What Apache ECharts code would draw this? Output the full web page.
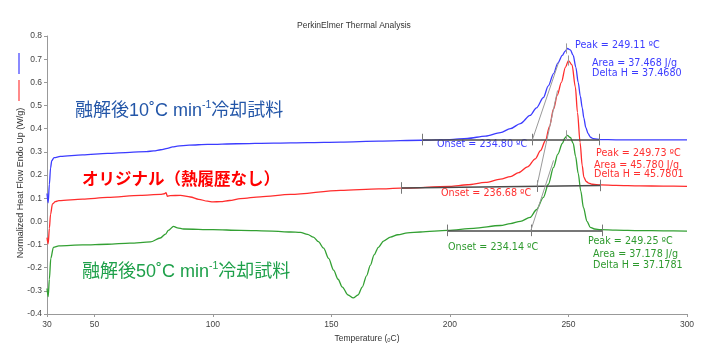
<!DOCTYPE html>
<html><head><meta charset="utf-8">
<script src="https://cdn.jsdelivr.net/npm/echarts@6/dist/echarts.min.js"></script>
<style>html,body{margin:0;padding:0;background:#fff}#c{width:720px;height:364px}</style>
</head><body><div id="c"></div>
<script>
// ---- data ----
const xTicks = [30, 50, 100, 150, 200, 250, 300];

const blueTemp = [30,30.5,31,31.5,32,33,35.6,45,55.5,65,72,75,78,80.8,83,85,90,97.7,110,125.6,140,153.8,170,188,200,207.4,215,221.3,225.5,229.7,233.8,236.5,239.4,241.5,243.7,245.5,247.4,248.6,249.6,250.8,252,253.1,254.1,255,255.8,256.5,257.3,258.3,259.3,260.5,263.5,270,280,290,300];
const blueFlow = [0.12,0.08,0.16,0.23,0.262,0.275,0.28,0.287,0.293,0.298,0.301,0.304,0.309,0.315,0.321,0.325,0.329,0.332,0.335,0.338,0.340,0.342,0.346,0.350,0.353,0.358,0.368,0.383,0.40,0.422,0.457,0.49,0.534,0.585,0.638,0.683,0.716,0.735,0.746,0.74,0.716,0.665,0.60,0.54,0.49,0.445,0.405,0.378,0.363,0.357,0.353,0.352,0.352,0.352,0.352];

const redTemp = [30,30.5,31,31.5,32.3,33.5,35,45,55.5,69.4,77.8,79.5,80.2,80.8,82,86.3,90.5,94,97.7,100,103.2,107,111.6,120,132.7,153.8,170,179,200,207.4,215,221.3,225.5,229,232.7,236,238.2,240.3,242,243.7,245.3,247,248.7,250,251.5,252.9,253.8,254.9,255.8,256.5,257.5,258.5,260,263.5,270,280,290,300];
const redFlow = [-0.07,-0.097,-0.03,0.03,0.075,0.085,0.089,0.096,0.103,0.112,0.116,0.119,0.124,0.108,0.111,0.112,0.105,0.095,0.087,0.084,0.085,0.09,0.098,0.106,0.116,0.134,0.14,0.143,0.151,0.158,0.168,0.182,0.193,0.21,0.235,0.27,0.305,0.349,0.41,0.485,0.545,0.6,0.665,0.694,0.675,0.58,0.47,0.34,0.24,0.19,0.172,0.165,0.16,0.157,0.155,0.153,0.152,0.151];

const greenTemp = [30,30.5,31,31.6,32.7,35,45,55.5,65,73.6,77.8,80,81.2,83.4,85,87.6,100,111.6,125,132.7,136.9,139.9,142.4,144.5,146.7,148.8,150.9,152.8,154.6,157,159.2,161.2,163,164.8,166.4,168,169.8,172,174.9,178,182.1,187.6,199,210,221.3,225.5,229.7,233.8,236.5,239.4,241.5,243.7,245.5,247.4,248.5,249.5,250.8,252,253,254.1,255.2,256.3,257.8,259.2,261,263.5,270,280,290,300];
const greenFlow = [-0.29,-0.325,-0.25,-0.16,-0.112,-0.106,-0.102,-0.099,-0.094,-0.089,-0.072,-0.055,-0.039,-0.022,-0.028,-0.033,-0.036,-0.039,-0.042,-0.046,-0.048,-0.056,-0.068,-0.088,-0.116,-0.16,-0.211,-0.25,-0.284,-0.318,-0.33,-0.318,-0.284,-0.235,-0.19,-0.145,-0.112,-0.085,-0.068,-0.058,-0.05,-0.046,-0.039,-0.03,-0.018,-0.01,0.0,0.017,0.05,0.103,0.16,0.233,0.29,0.336,0.36,0.371,0.362,0.336,0.28,0.207,0.13,0.06,0.0,-0.026,-0.033,-0.036,-0.038,-0.04,-0.041,-0.042];

// analysis: baseline start/end [T, value], onset, peak, tangent end
const blueBaseline = [[188.3, 0.353], [263.1, 0.353]];
const blueOnset = [234.8, 0.353];
const blueTangentEnd = [245.8, 0.685];
const bluePeak = [249.11, 0.746];

const redBaseline = [[179.4, 0.144], [263.5, 0.155]];
const redOnset = [236.68, 0.152];
const redTangentEnd = [245.4, 0.565];
const redPeak = [249.73, 0.694];

const greenBaseline = [[199, -0.039], [264.3, -0.039]];
const greenOnset = [234.14, -0.039];
const greenTangentEnd = [243.7, 0.263];
const greenPeak = [249.25, 0.371];

const blueTexts = ['Peak = 249.11 ºC', 'Area = 37.468 J/g', 'Delta H = 37.4680', 'Onset = 234.80 ºC'];
const redTexts = ['Peak = 249.73 ºC', 'Area = 45.780 J/g', 'Delta H = 45.7801', 'Onset = 236.68 ºC'];
const greenTexts = ['Peak = 249.25 ºC', 'Area = 37.178 J/g', 'Delta H = 37.1781', 'Onset = 234.14 ºC'];

const titleText = 'PerkinElmer Thermal Analysis';
const xName = 'Temperature (ₒC)';
const yName = 'Normalized Heat Flow Endo Up (W/g)';

// ---- chart ----
const chart = echarts.init(document.getElementById('c'), null, {renderer: 'canvas'});
const pairs = (t, v) => t.map((x, i) => [x, v[i]]);
function seg(a, b, color, width) {
  return [{coord: a, lineStyle: {color: color, width: width, type: 'solid'}}, {coord: b}];
}
function analysis(base, onset, tanEnd, peak) {
  const h = 0.025;
  const d = [];
  d.push(seg(base[0], base[1], '#4a4a4a', 1.6));
  [base[0], onset, base[1]].forEach(p => d.push(seg([p[0], p[1] - h], [p[0], p[1] + h], '#777', 1)));
  d.push(seg(onset, tanEnd, '#9a9a9a', 1));
  d.push(seg([peak[0], peak[1] - 0.022], [peak[0], peak[1] + 0.022], '#999', 1));
  return d;
}
function mk(data) {
  return {silent: true, symbol: ['none', 'none'], label: {show: false}, animation: false, data: data};
}

const FONT_ANN = "'DejaVu Sans', Verdana, sans-serif";
const FONT_JP = "'Liberation Sans', 'Noto Sans CJK JP', sans-serif";
function annTexts(texts, pos, color) {
  return texts.map((t, i) => ({
    type: 'text', x: pos[i][0], y: pos[i][1], silent: true,
    style: {text: t, fill: color, font: '9.6px ' + FONT_ANN, align: 'left', verticalAlign: 'middle'}
  }));
}
function bigLabel(pre, sup, post, x, y, color) {
  return {
    type: 'text', x: x, y: y, silent: true,
    style: {
      text: '{a|' + pre + '}{s|' + sup + '}{a|' + post + '}',
      align: 'left', verticalAlign: 'middle',
      rich: {
        a: {fontSize: 18, fontFamily: FONT_JP, fill: color, color: color, lineHeight: 22},
        s: {fontSize: 10.5, fontFamily: FONT_JP, fill: color, color: color, lineHeight: 22, verticalAlign: 'top', padding: [0, 0, 0, 0]}
      }
    }
  };
}

const option = {
  animation: false,
  backgroundColor: '#fff',
  title: {
    text: titleText, left: 297, top: 21, padding: 0,
    textStyle: {fontSize: 8.5, fontWeight: 'normal', color: '#333', fontFamily: 'Liberation Sans, Arial, sans-serif'}
  },
  legend: {
    data: [{name: 'blue', itemStyle: {color: '#8a8aff'}}, {name: 'red', itemStyle: {color: '#ff8a8a'}}],
    orient: 'vertical', left: 18, top: 53, padding: 0, itemWidth: 2, itemHeight: 21, itemGap: 6,
    icon: 'rect', selectedMode: false, formatter: () => '', textStyle: {fontSize: 1}
  },
  grid: {left: 47, right: 33, top: 36, bottom: 50, containLabel: false, outerBoundsMode: 'none'},
  xAxis: {
    type: 'value', min: 30, max: 300,
    name: xName, nameLocation: 'middle', nameGap: 15,
    nameTextStyle: {fontSize: 8.5, color: '#333', fontFamily: 'Liberation Sans, Arial, sans-serif'},
    axisLine: {show: true, onZero: false, lineStyle: {color: '#999', width: 1}},
    axisTick: {show: true, customValues: xTicks, length: 3, lineStyle: {color: '#999'}},
    axisLabel: {customValues: xTicks, fontSize: 8.5, color: '#444', margin: 6, fontFamily: 'Liberation Sans, Arial, sans-serif'},
    splitLine: {show: false}
  },
  yAxis: {
    type: 'value', min: -0.4, max: 0.8, interval: 0.1,
    axisLine: {show: true, onZero: false, lineStyle: {color: '#999', width: 1}},
    axisTick: {show: true, length: 3, lineStyle: {color: '#999'}},
    axisLabel: {fontSize: 8.5, color: '#444', margin: 5, fontFamily: 'Liberation Sans, Arial, sans-serif',
      formatter: v => (Math.abs(v) < 1e-9 ? 0 : v).toFixed(1)},
    splitLine: {show: false}
  },
  series: [
    {name: 'blue', type: 'line', data: pairs(blueTemp, blueFlow), showSymbol: false, smooth: 0.3, smoothMonotone: 'x',
      lineStyle: {color: '#3c3cff', width: 1.3}, itemStyle: {color: '#3c3cff'}, z: 3,
      markLine: mk(analysis(blueBaseline, blueOnset, blueTangentEnd, bluePeak))},
    {name: 'red', type: 'line', data: pairs(redTemp, redFlow), showSymbol: false, smooth: 0.3, smoothMonotone: 'x',
      lineStyle: {color: '#ff2d2d', width: 1.3}, itemStyle: {color: '#ff2d2d'}, z: 3,
      markLine: mk(analysis(redBaseline, redOnset, redTangentEnd, redPeak))},
    {name: 'green', type: 'line', data: pairs(greenTemp, greenFlow), showSymbol: false, smooth: 0.3, smoothMonotone: 'x',
      lineStyle: {color: '#33a033', width: 1.3}, itemStyle: {color: '#33a033'}, z: 3,
      markLine: mk(analysis(greenBaseline, greenOnset, greenTangentEnd, greenPeak))}
  ],
  graphic: [
    {type: 'text', x: 21, y: 183, rotation: Math.PI / 2, silent: true,
      style: {text: yName, fill: '#333', font: '9px Liberation Sans, Arial, sans-serif', align: 'center', verticalAlign: 'middle'}},
    bigLabel('融解後10˚C min', '-1', '冷却試料', 75, 111, '#2356a8'),
    {type: 'text', x: 82, y: 180, silent: true,
      style: {text: 'オリジナル（熱履歴なし）', fill: '#ff0000', font: 'bold 16.5px ' + FONT_JP, align: 'left', verticalAlign: 'middle'}},
    bigLabel('融解後50˚C min', '-1', '冷却試料', 82, 272, '#1ea04a'),
    ...annTexts(blueTexts, [[575, 45], [592, 63], [592, 73], [437, 144]], '#3c3cff'),
    ...annTexts(redTexts, [[596, 153], [594, 165], [594, 174], [441, 193]], '#ff3030'),
    ...annTexts(greenTexts, [[588, 241], [593, 254], [593, 265], [448, 247]], '#2e9a2e')
  ]
};
chart.setOption(option);
</script>
</body></html>
